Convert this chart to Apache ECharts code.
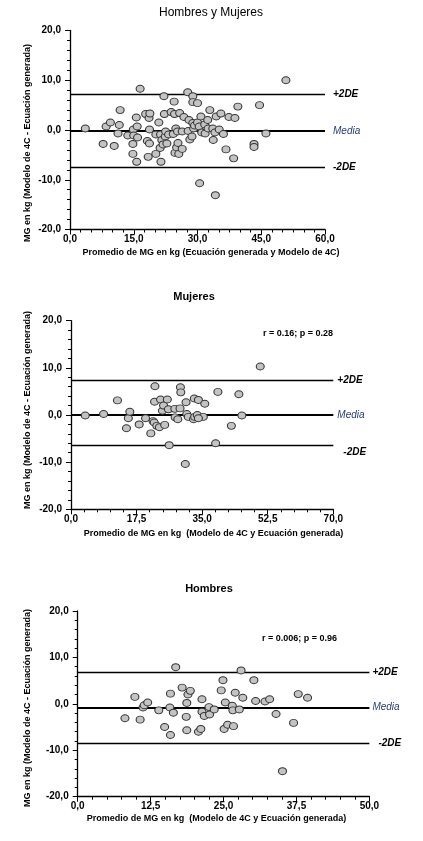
<!DOCTYPE html>
<html>
<head>
<meta charset="utf-8">
<script src="https://cdn.jsdelivr.net/npm/echarts@6/dist/echarts.min.js"></script>
<style>
html,body{margin:0;padding:0;background:#fff;}
#chart{width:423px;height:841px;}
</style>
</head>
<body>
<div id="chart"></div>
<script>
// ---- Data ----
const titles = ['Hombres y Mujeres', 'Mujeres', 'Hombres'];
const xNames = [
  'Promedio de MG en kg (Ecuación generada y Modelo de 4C)',
  'Promedio de MG en kg  (Modelo de 4C y Ecuación generada)',
  'Promedio de MG en kg  (Modelo de 4C y Ecuación generada)'
];
const yName = 'MG en kg (Modelo de 4C - Ecuación generada)';
const statTexts = ['', 'r = 0.16; p = 0.28', 'r = 0.006; p = 0.96'];
const lineLabels = ['+2DE', 'Media', '-2DE'];
const xMax = [60, 70, 50];
const xInterval = [15, 17.5, 12.5];
const yMin = -20, yMax = 20, yInterval = 10;

// lines: [+2DE, Media, -2DE]
const p1Lines = [7.2, -0.2, -7.4];
const p2Lines = [7.3, 0.15, -6.4];
const p3Lines = [6.8, -0.8, -8.5];

const p1Points = [
  [3.6,0.3],[7.8,-2.8],[8.5,0.7],[9.5,1.5],[10.4,-3.2],[11.3,-0.7],[11.6,1.0],[11.8,4.0],
  [13.6,-1.1],[14.8,-2.8],[14.8,-4.8],[14.9,0.1],[15.0,-1.1],[15.6,2.5],[15.7,-6.4],[15.8,0.7],[15.9,-1.5],
  [16.5,8.3],[17.8,3.2],[18.2,-2.2],[18.4,-5.4],[18.6,2.4],[18.7,0.1],[18.7,-2.7],[18.8,3.3],
  [20.2,-0.9],[20.2,-4.8],[20.9,1.5],[21.2,-3.6],[21.3,-0.9],[21.4,-6.4],[21.6,-2.0],[21.9,-2.9],
  [22.1,6.8],[22.2,3.2],[22.4,-1.3],[22.5,-0.3],[22.8,-2.7],[23.2,-0.9],[23.8,3.6],
  [24.3,-0.8],[24.5,5.7],[24.6,3.2],[24.7,-4.6],[24.9,0.3],[25.1,-3.5],[25.3,-0.3],[25.4,-2.6],
  [25.6,-4.8],[25.8,3.4],[26.4,-0.3],[26.4,-3.8],[26.8,2.6],[27.7,7.6],[27.8,-0.2],[28.0,2.0],
  [28.2,-1.9],[28.7,-1.3],[28.9,1.4],[28.9,6.8],[28.9,5.6],[29.1,0.3],[29.3,0.9],[30.0,5.4],
  [30.0,1.5],[30.4,0.7],[30.5,-10.7],[30.8,2.7],[31.0,-0.5],[31.7,1.1],[31.8,-0.7],[32.4,2.0],
  [32.5,0.3],[32.9,4.0],[33.6,0.3],[33.7,-2.0],[34.1,-0.5],[34.2,-13.1],[34.4,2.7],[35.1,0.1],
  [35.5,3.3],[36.1,-0.8],[36.7,-3.9],[37.4,2.6],[38.5,-5.7],[38.8,2.4],[39.5,4.7],[43.3,-2.8],
  [43.3,-3.4],[44.6,5.0],[46.1,-0.7],[50.8,10.0]
];
const p2Points = [
  [3.8,-0.1],[8.7,0.2],[12.4,3.1],[14.8,-2.8],[15.3,-0.7],[15.7,0.7],[18.2,-2.0],[19.9,-0.7],
  [21.3,-3.9],[21.9,-1.3],[22.2,-1.6],[22.3,2.8],[22.4,6.1],[22.9,-2.3],[23.6,-2.6],[23.9,3.3],
  [24.4,0.9],[24.7,2.0],[25.0,-2.1],[25.7,3.3],[26.0,1.2],[26.2,-6.4],[27.7,1.3],[27.8,-0.5],
  [28.5,-0.9],[29.1,1.4],[29.2,5.9],[29.3,4.8],[30.5,-10.4],[30.7,2.7],[30.9,0.2],[31.3,-0.4],
  [32.7,-0.9],[33.0,-0.4],[32.9,3.5],[34.0,3.2],[33.7,0.0],[35.3,-0.4],[35.7,2.4],[34.0,-0.7],
  [38.6,-6.0],[39.2,4.9],[42.8,-2.3],[44.8,4.4],[45.6,-0.1],[50.5,10.3]
];
const p3Points = [
  [8.1,-3.1],[9.8,1.5],[10.7,-3.4],[11.2,-0.8],[11.4,-0.3],[12.0,0.3],[13.9,-1.4],[14.9,-5.0],
  [15.8,-0.8],[15.9,2.2],[15.9,-6.7],[16.4,-1.9],[16.8,7.9],[17.9,3.5],[18.6,-2.8],[18.7,0.2],
  [18.7,-5.7],[18.9,2.0],[19.3,2.8],[20.7,-6.0],[21.1,-5.4],[21.3,1.0],[21.3,-1.7],[21.7,-2.6],
  [22.5,-0.7],[22.6,-2.3],[23.4,-1.2],[24.6,2.9],[24.9,5.1],[25.1,-5.4],[25.3,0.3],[25.7,-4.5],
  [26.5,-0.4],[26.6,-1.4],[26.7,-4.8],[27.0,2.4],[27.7,-1.2],[28.0,7.2],[28.3,1.3],[30.2,5.1],
  [30.5,0.6],[32.1,0.5],[32.9,1.0],[34.0,-2.2],[35.1,-14.5],[37.0,-4.1],[37.8,2.1],[39.4,1.3]
];

const allPoints = [p1Points, p2Points, p3Points];
const allLines = [p1Lines, p2Lines, p3Lines];

// ---- Layout ----
const grids = [
  {left: 70, top: 30.5, width: 255, height: 199},
  {left: 71, top: 320.7, width: 262.3, height: 188.6},
  {left: 77.7, top: 611, width: 291.7, height: 185.7}
];
const xMinorSplit = [6, 5, 5];
const titlePos = [{x: 211, y: 13, w: 'normal', s: 12}, {x: 194, y: 297, w: 'bold', s: 11}, {x: 209, y: 589, w: 'bold', s: 11}];
const xNamePos = [{x: 211, y: 253}, {x: 213.5, y: 533.5}, {x: 216.5, y: 818.5}];
const yNamePos = [{x: 28, y: 143}, {x: 28, y: 410}, {x: 28, y: 708}];
const statPos = [null, {x: 263, y: 334}, {x: 262, y: 638.5}];
const lblDist = [[8, 8, 8], [4, 4, 10], [3, 3, 9]];
const lblOffY = [[0, 0, 0], [0, 1, 7], [0, 0, 0]];

const FONT = '"Liberation Sans", Arial, sans-serif';
const fmt = v => v.toFixed(1).replace('.', ',');

const chart = echarts.init(document.getElementById('chart'), null, {renderer: 'canvas'});

const xAxes = [], yAxes = [], series = [], graphics = [];
for (let i = 0; i < 3; i++) {
  xAxes.push({
    type: 'value', gridIndex: i, min: 0, max: xMax[i], interval: xInterval[i],
    axisLine: {show: true, onZero: false, lineStyle: {color: '#000', width: 1.3}},
    axisTick: {show: true, inside: false, length: 5, lineStyle: {color: '#000', width: 1}},
    minorTick: {show: true, splitNumber: xMinorSplit[i], length: 3, lineStyle: {color: '#000', width: 1}},
    splitLine: {show: false},
    axisLabel: {formatter: fmt, fontFamily: FONT, fontWeight: 'bold', fontSize: 10, color: '#000', margin: 5,
      showMinLabel: true, showMaxLabel: true}
  });
  yAxes.push({
    type: 'value', gridIndex: i, min: yMin, max: yMax, interval: yInterval,
    axisLine: {show: true, onZero: false, lineStyle: {color: '#000', width: 1.3}},
    axisTick: {show: true, inside: false, length: 5, lineStyle: {color: '#000', width: 1}},
    minorTick: {show: true, splitNumber: 5, length: 3, lineStyle: {color: '#000', width: 1}},
    splitLine: {show: false},
    axisLabel: {formatter: fmt, fontFamily: FONT, fontWeight: 'bold', fontSize: 10, color: '#000', margin: 9}
  });
  const ls = allLines[i];
  const mlData = ls.map((v, k) => ({
    yAxis: v,
    lineStyle: {color: '#000', width: k === 1 ? 2 : 1.3, type: 'solid'},
    label: {
      show: true, position: 'end', formatter: lineLabels[k],
      distance: lblDist[i][k], offset: [0, lblOffY[i][k]],
      fontFamily: FONT, fontSize: 10, fontStyle: 'italic',
      fontWeight: k === 0 ? 'bold' : (k === 2 ? 'bold' : 'normal'),
      color: k === 1 ? '#24407a' : '#000'
    }
  }));
  series.push({
    type: 'scatter', xAxisIndex: i, yAxisIndex: i, data: allPoints[i],
    symbol: 'circle', symbolSize: [8, 7],
    itemStyle: {color: '#c3c3c3', borderColor: '#333', borderWidth: 1, opacity: 1},
    z: 3,
    markLine: {silent: true, symbol: 'none', animation: false, data: mlData, z: 2}
  });
  graphics.push({
    type: 'text', x: titlePos[i].x, y: titlePos[i].y,
    style: {text: titles[i], fontFamily: FONT, fontSize: titlePos[i].s, fontWeight: titlePos[i].w,
      fill: '#000', align: 'center', verticalAlign: 'middle'}
  });
  graphics.push({
    type: 'text', x: xNamePos[i].x, y: xNamePos[i].y,
    style: {text: xNames[i], fontFamily: FONT, fontSize: 9, fontWeight: 'bold',
      fill: '#000', align: 'center', verticalAlign: 'middle'}
  });
  graphics.push({
    type: 'text', x: yNamePos[i].x, y: yNamePos[i].y, rotation: Math.PI / 2,
    style: {text: yName, fontFamily: FONT, fontSize: 9, fontWeight: 'bold',
      fill: '#000', align: 'center', verticalAlign: 'middle'}
  });
  if (statPos[i]) {
    graphics.push({
      type: 'text', x: statPos[i].x, y: statPos[i].y,
      style: {text: statTexts[i], fontFamily: FONT, fontSize: 9, fontWeight: 'bold',
        fill: '#000', align: 'left', verticalAlign: 'middle'}
    });
  }
}

chart.setOption({
  animation: false,
  backgroundColor: '#fff',
  grid: grids.map(g => Object.assign({containLabel: false}, g)),
  xAxis: xAxes,
  yAxis: yAxes,
  series: series,
  graphic: graphics
});
</script>
</body>
</html>
